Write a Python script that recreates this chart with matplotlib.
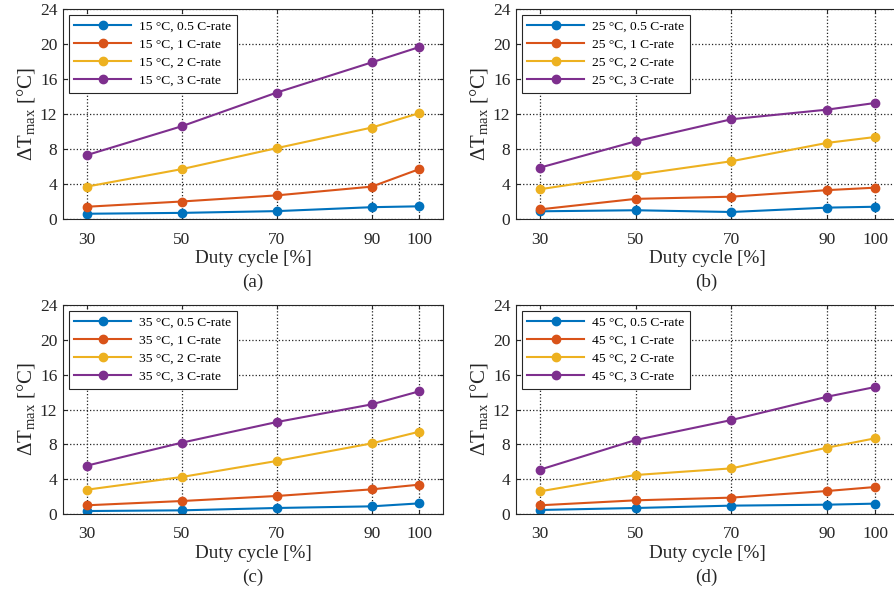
import matplotlib
matplotlib.use("Agg")
import matplotlib.pyplot as plt

plt.rcParams['font.family'] = ['Liberation Serif', 'DejaVu Serif']
plt.rcParams['mathtext.fontset'] = 'custom'
plt.rcParams['mathtext.rm'] = 'Liberation Serif'
plt.rcParams['mathtext.it'] = 'Liberation Serif:italic'

# duty cycle values
duty = [30, 50, 70, 90, 100]
rates = ['0.5', '1', '2', '3']
temps = [15, 25, 35, 45]
captions = ['(a)', '(b)', '(c)', '(d)']

# max temperature rise per C-rate, one list per ambient temperature
dt_15 = [[0.6, 0.7, 0.9, 1.35, 1.45],
         [1.4, 2.0, 2.7, 3.7, 5.7],
         [3.7, 5.7, 8.1, 10.45, 12.1],
         [7.3, 10.6, 14.45, 17.9, 19.65]]
dt_25 = [[0.88, 1.0, 0.8, 1.3, 1.4],
         [1.1, 2.3, 2.55, 3.3, 3.58],
         [3.4, 5.05, 6.6, 8.7, 9.37],
         [5.87, 8.88, 11.4, 12.5, 13.26]]
dt_35 = [[0.34, 0.42, 0.69, 0.88, 1.22],
         [1.0, 1.49, 2.07, 2.83, 3.37],
         [2.79, 4.25, 6.09, 8.11, 9.45],
         [5.55, 8.19, 10.56, 12.59, 14.09]]
dt_45 = [[0.46, 0.69, 0.96, 1.07, 1.19],
         [1.0, 1.57, 1.88, 2.64, 3.1],
         [2.6, 4.48, 5.24, 7.62, 8.69],
         [5.09, 8.5, 10.79, 13.47, 14.58]]
all_data = [dt_15, dt_25, dt_35, dt_45]

colors = ['#0072BD', '#D95319', '#EDB120', '#7E2F8E']

W, H = 894, 594
fig = plt.figure(figsize=(W / 100, H / 100), dpi=100)

# axes boxes in pixels: left, top, width, height
boxes = [(63, 9, 380, 210), (516, 9, 383, 210),
         (63, 305, 380, 209), (516, 305, 383, 209)]

for i in range(4):
    l, t, w, h = boxes[i]
    ax = fig.add_axes([l / W, (H - t - h) / H, w / W, h / H])
    for j in range(4):
        ax.plot(duty, all_data[i][j], '-o', color=colors[j], lw=1.5, ms=6,
                label='%d °C, %s C-rate' % (temps[i], rates[j]))
    ax.set_xlim(25, 105)
    ax.set_ylim(0, 24)
    ax.set_xticks(duty)
    ax.set_yticks(range(0, 25, 4))
    ax.tick_params(direction='in', labelsize=12.5, length=3, colors='#262626',
                   labelcolor='#262626', top=True, right=True)
    ax.tick_params(axis='x', pad=9)
    ax.tick_params(axis='y', pad=4)
    ax.grid(True, linestyle=':', color='#222222', lw=0.9)
    for s in ax.spines.values():
        s.set_color('#262626')
        s.set_linewidth(0.8)
    ax.set_xlabel('Duty cycle [%]', fontsize=13.8, color='#262626', labelpad=2)
    ax.set_ylabel(r'$\Delta\mathrm{T}_{\mathrm{max}}$ [°C]', fontsize=15,
                  color='#262626', labelpad=2)
    leg = ax.legend(loc='upper left', fontsize=9.7, fancybox=False,
                    framealpha=1, edgecolor='#262626', handlelength=4.2,
                    handletextpad=0.6, borderaxespad=0.45, labelspacing=0.42,
                    borderpad=0.4)
    leg.get_frame().set_linewidth(0.8)
    fig.text((l + 380 / 2) / W, 1 - (t + h + 63) / H, captions[i],
             ha='center', va='center', fontsize=13.8, color='#262626')

fig.savefig('out.png', dpi=100)
